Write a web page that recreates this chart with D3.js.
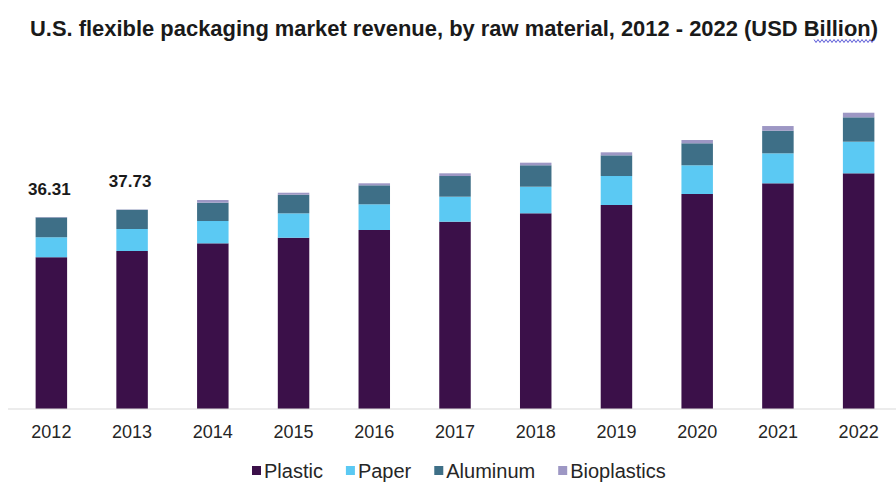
<!DOCTYPE html>
<html>
<head>
<meta charset="utf-8">
<script src="https://cdn.jsdelivr.net/npm/d3@7"></script>
<style>
  body { margin: 0; background: #fff; }
  svg text { font-family: "Liberation Sans", Arial, sans-serif; }
</style>
</head>
<body>
<svg id="chart" width="896" height="483"></svg>
<script>
// values (USD Billion)
const years = ["2012", "2013", "2014", "2015", "2016", "2017", "2018", "2019", "2020", "2021", "2022"];
const plastic     = [28.70, 29.88, 31.33, 32.39, 33.85, 35.42, 37.01, 38.58, 40.66, 42.68, 44.57];
const paper       = [3.78, 4.16, 4.22, 4.61, 4.86, 4.73, 5.03, 5.48, 5.43, 5.67, 5.98];
const aluminum    = [3.75, 3.63, 3.46, 3.52, 3.59, 3.91, 4.05, 3.91, 4.16, 4.27, 4.61];
const bioplastics = [0.08, 0.06, 0.51, 0.38, 0.38, 0.51, 0.49, 0.57, 0.62, 0.89, 0.87];
const seriesNames = ["Plastic", "Paper", "Aluminum", "Bioplastics"];
const labelled = { "2012": "36.31", "2013": "37.73" };

const colors = ["#3b1049", "#5bc9f3", "#3e6f87", "#9d97c4"];

const svg = d3.select("#chart");

// title (squeezed, like the narrow font in the original)
svg.append("text")
  .attr("x", 30)
  .attr("y", 36)
  .attr("textLength", 848)
  .attr("lengthAdjust", "spacingAndGlyphs")
  .style("font-size", "22px")
  .style("font-weight", "bold")
  .style("fill", "#1a1a1a")
  .text("U.S. flexible packaging market revenue, by raw material, 2012 - 2022 (USD Billion)");

// spell-check squiggle under "Billion"
const wave = d3.range(0, 31).map(i => [814 + i * 2, 41 + (i % 2 ? 1.5 : -1.5)]);
svg.append("path")
  .attr("d", d3.line()(wave))
  .attr("fill", "none")
  .attr("stroke", "#5a5ad8")
  .attr("stroke-width", 1);

const rows = years.map((yr, i) => ({
  year: yr,
  Plastic: plastic[i],
  Paper: paper[i],
  Aluminum: aluminum[i],
  Bioplastics: bioplastics[i]
}));

const stack = d3.stack().keys(seriesNames)(rows);

const x = d3.scaleBand()
  .domain(years)
  .range([11, 899])
  .paddingInner(0.61)
  .paddingOuter(0.305);

const y = d3.scaleLinear()
  .domain([0, 50])
  .range([409, 144.6]);

// bars
svg.append("g")
  .selectAll("g")
  .data(stack)
  .enter()
  .append("g")
  .attr("fill", (d, i) => colors[i])
  .selectAll("rect")
  .data(d => d)
  .enter()
  .append("rect")
  .attr("x", d => x(d.data.year))
  .attr("y", d => y(d[1]))
  .attr("width", x.bandwidth())
  .attr("height", d => y(d[0]) - y(d[1]));

// x axis
const xAxis = svg.append("g")
  .attr("transform", "translate(0,409)")
  .call(d3.axisBottom(x).tickSize(0).tickPadding(16));
xAxis.select(".domain").remove();
xAxis.append("line")
  .attr("x1", 8).attr("x2", 896)
  .attr("stroke", "#d9d9d9");
xAxis.selectAll("text")
  .style("font-size", "18px")
  .style("font-family", "'Liberation Sans', Arial, sans-serif")
  .style("fill", "#262626");

// total labels
const topLayer = stack[stack.length - 1];
svg.append("g")
  .selectAll("text")
  .data(topLayer.filter(d => labelled[d.data.year]))
  .enter()
  .append("text")
  .attr("x", d => x(d.data.year) + x.bandwidth() / 2 - 2)
  .attr("y", d => y(d[1]) - 22)
  .attr("text-anchor", "middle")
  .style("font-size", "17px")
  .style("font-weight", "bold")
  .style("fill", "#1a1a1a")
  .text(d => labelled[d.data.year]);

// legend
const legend = svg.append("g").attr("transform", "translate(252,471)");
let lx = 0;
seriesNames.forEach((name, i) => {
  legend.append("rect")
    .attr("x", lx).attr("y", -5)
    .attr("width", 9).attr("height", 9)
    .attr("fill", colors[i]);
  const t = legend.append("text")
    .attr("x", lx + 12)
    .attr("y", 7)
    .style("font-size", "20px")
    .style("fill", "#262626")
    .text(name);
  lx += 12 + t.node().getComputedTextLength() + 23;
});
</script>
</body>
</html>
